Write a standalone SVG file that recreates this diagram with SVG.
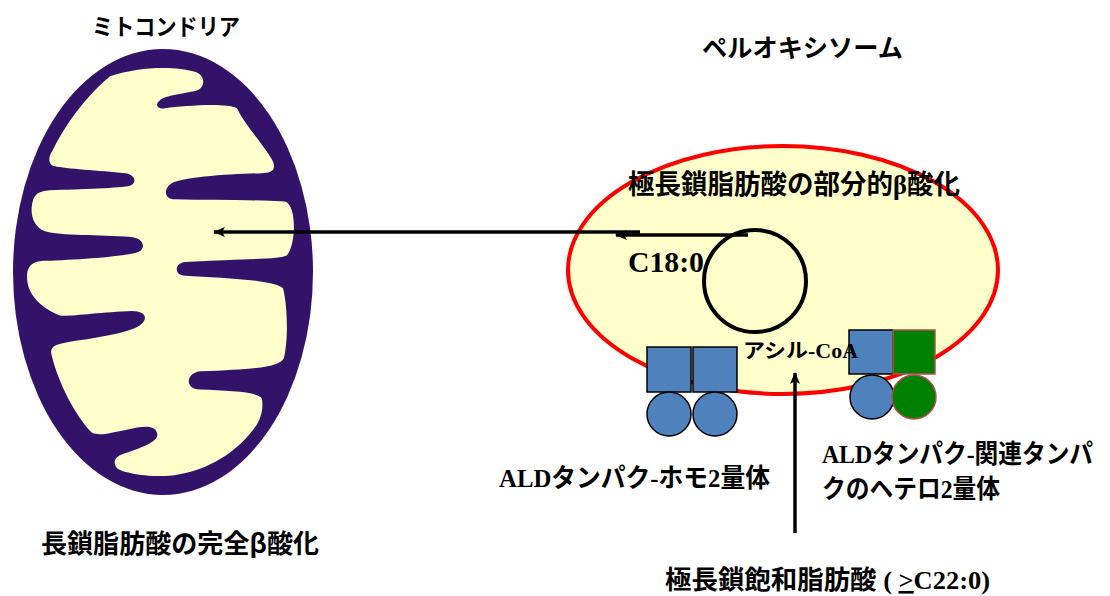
<svg xmlns="http://www.w3.org/2000/svg" width="1110" height="596" viewBox="0 0 1110 596">
  <defs>
    <style>
      .jp { font-family: "Noto Sans CJK JP", "Noto Sans", sans-serif; font-weight: bold; fill: #000; }
      .mix { font-family: "Liberation Serif", "Noto Sans CJK JP", serif; font-weight: bold; fill: #000; }
      .blue { fill: #4F81BD; stroke: #000; stroke-width: 1.5; }
      .green { fill: #008000; stroke: #B05050; stroke-width: 1.5; }
      .wire { stroke: #000; stroke-width: 3.5; fill: none; }
    </style>
    <marker id="head" viewBox="0 0 12 10" refX="11" refY="5" markerWidth="12" markerHeight="10" markerUnits="userSpaceOnUse" orient="auto">
      <path d="M0,0 L12,5 L0,10 L3,5 Z" fill="#000"/>
    </marker>
  </defs>

  <rect width="1110" height="596" fill="#fff"/>

  <!-- mitochondrion: outer membrane and inner matrix with cristae -->
  <g id="mitochondrion">
    <ellipse cx="163" cy="272" rx="150" ry="223" fill="#33126A"/>
    <path transform="scale(1 1.139)" fill="#FFFFCC" d="
      M110,67 C140,58 175,58 195,63 C206,66 206,78 195,80
      C185,82 165,84 160,88 C154,92 158,96 165,95
      C185,93 225,90 237,95 C245,110 262,125 272,140
      C278,150 270,152 262,152 C230,153 180,155 170,162
      C163,167 165,175 175,175 C210,176 250,175 285,177
      C297,180 296,215 287,224 C280,228 240,227 185,230
      C174,231 174,242 185,242 C220,244 270,245 283,253
      C288,270 288,300 284,314 C280,322 260,324 200,326
      C185,328 185,342 200,342 C230,343 258,344 262,350
      C264,365 258,375 240,390 C215,410 185,418 160,418
      C140,418 118,414 116,410 C112,403 118,400 125,398
      C140,393 160,388 157,380 C154,372 140,375 128,377
      C110,380 100,383 92,380 C75,365 58,335 52,313
      C48,303 58,302 70,300 C100,296 133,292 142,284
      C148,279 145,273 132,273 C100,274 70,278 60,277
      C40,270 27,258 27,243 C27,232 35,229 45,229
      C80,228 128,225 139,221 C146,218 144,209 131,208
      C100,206 60,207 45,203 C35,200 30,190 32,180
      C34,170 38,168 50,167 C80,166 122,165 130,163
      C137,161 136,153 125,152 C100,150 65,148 55,146
      C48,145 48,138 52,133 C65,110 85,85 110,67 Z"/>
  </g>

  <!-- peroxisome membrane -->
  <g id="peroxisome">
    <ellipse cx="783" cy="270" rx="215" ry="124" fill="#FFFFCC" stroke="#FF0000" stroke-width="4"/>
  </g>

  <!-- acyl-CoA pool -->
  <g id="acyl-coa">
    <circle cx="755" cy="281" r="51" fill="none" stroke="#000" stroke-width="4"/>
  </g>

  <!-- ALD protein homodimer -->
  <g id="ald-homodimer">
    <rect class="blue" x="647" y="347" width="44" height="45"/>
    <rect class="blue" x="693" y="347" width="44" height="45"/>
    <circle class="blue" cx="669" cy="414" r="22"/>
    <circle class="blue" cx="715" cy="414" r="22"/>
  </g>

  <!-- ALD protein / related protein heterodimer -->
  <g id="ald-heterodimer">
    <rect class="blue" x="849" y="330" width="44" height="44"/>
    <rect class="green" x="893" y="330" width="42" height="44"/>
    <circle class="blue" cx="872" cy="397" r="22"/>
    <circle class="green" cx="914" cy="397" r="22"/>
  </g>

  <!-- connectors -->
  <g id="connectors">
    <line class="wire" x1="640" y1="232" x2="214" y2="232" marker-end="url(#head)"/>
    <line class="wire" x1="748" y1="235" x2="616" y2="235" marker-end="url(#head)"/>
    <line class="wire" x1="795" y1="533" x2="795" y2="373" stroke-width="4" marker-end="url(#head)"/>
  </g>

  <!-- labels -->
  <g id="labels">
    <text class="jp" x="92" y="35" font-size="23" textLength="148" lengthAdjust="spacingAndGlyphs">ミトコンドリア</text>
    <text class="jp" x="702" y="57" font-size="25" textLength="201" lengthAdjust="spacingAndGlyphs">ペルオキシソーム</text>
    <text class="mix" x="628" y="194" font-size="27" textLength="332" lengthAdjust="spacingAndGlyphs">極長鎖脂肪酸の部分的β酸化</text>
    <text class="mix" x="628" y="272" font-size="29" textLength="76" lengthAdjust="spacingAndGlyphs">C18:0</text>
    <text class="mix" x="743" y="358" font-size="20" textLength="115" lengthAdjust="spacingAndGlyphs">アシル-CoA</text>
    <text class="mix" x="499" y="487" font-size="26" textLength="271" lengthAdjust="spacingAndGlyphs">ALDタンパク-ホモ2量体</text>
    <text class="mix" x="822" y="463" font-size="26" textLength="271" lengthAdjust="spacingAndGlyphs">ALDタンパク-関連タンパ</text>
    <text class="mix" x="822" y="498" font-size="26" textLength="178" lengthAdjust="spacingAndGlyphs">クのヘテロ2量体</text>
    <text class="mix" x="665" y="589" font-size="26" textLength="325" lengthAdjust="spacingAndGlyphs">極長鎖飽和脂肪酸 ( <tspan text-decoration="underline">&gt;</tspan>C22:0)</text>
    <text class="jp" x="41" y="553" font-size="26" textLength="278" lengthAdjust="spacingAndGlyphs">長鎖脂肪酸の完全β酸化</text>
  </g>
</svg>
